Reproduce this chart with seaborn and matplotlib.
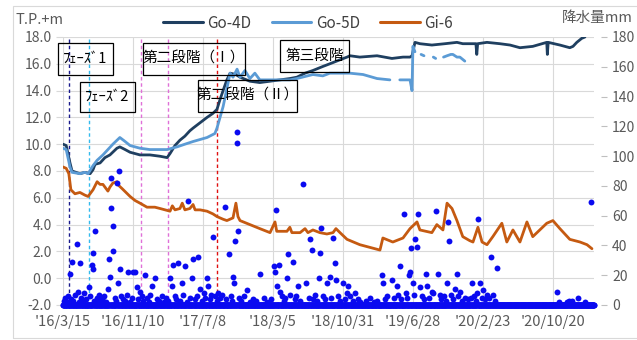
import numpy as np
import pandas as pd
import matplotlib
matplotlib.use("Agg")
import matplotlib.pyplot as plt
from matplotlib.patches import Rectangle
from matplotlib.lines import Line2D
import seaborn as sns

# Observation start; all day values below count days from this date
START = pd.Timestamp("2016-03-15")
END_DAY = 1821

# Go-4D groundwater level (T.P.+m)
go4d_day = [0, 11, 24, 31, 58, 75, 93, 103, 110, 127, 144, 161, 185, 195, 213, 230,
            247, 264, 298, 333, 357, 367, 384, 401, 418, 435, 446, 470, 494, 514, 528,
            538, 549, 562, 573, 593, 607, 641, 675, 710, 744, 778, 802, 830, 857, 891,
            915, 950, 974, 984, 1018, 1077, 1128, 1166, 1190, 1197, 1207, 1224, 1265,
            1310, 1351, 1371, 1406, 1416, 1419, 1422, 1454, 1498, 1533, 1567, 1611,
            1659, 1661, 1664, 1704, 1738, 1749, 1762, 1779, 1790]
go4d_level = [10.0, 9.9, 8.6, 8.0, 7.8, 7.9, 7.8, 8.1, 8.5, 8.6, 9.0, 9.2, 9.7, 9.8, 9.6, 9.4,
              9.3, 9.2, 9.2, 9.1, 9.0, 9.3, 9.9, 10.3, 10.6, 11.0, 11.2, 11.6, 12.0, 12.3, 12.6,
              13.3, 14.0, 14.8, 15.3, 15.2, 15.0, 14.7, 14.6, 14.7, 14.8, 14.9, 15.0, 15.3, 15.5, 15.8,
              16.0, 16.3, 16.5, 16.6, 16.5, 16.6, 16.4, 16.5, 16.5, 16.6, 17.6, 17.5, 17.4,
              17.5, 17.6, 17.5, 17.5, 17.5, 16.7, 17.5, 17.6, 17.5, 17.4, 17.2, 17.3,
              17.6, 16.7, 17.6, 17.4, 17.2, 17.3, 17.6, 17.9, 18.0]

# Go-5D groundwater level (T.P.+m); seg separates stretches with missing records
go5d_day = [0, 11, 24, 31, 58, 75, 86, 103, 117, 137, 154, 171, 195, 213, 230, 264, 298,
            333, 357, 391, 418, 446, 494, 521, 528, 549, 573, 583, 597, 607, 624, 641, 658,
            675, 710, 744, 778, 802, 857, 891, 915, 984, 1029, 1077, 1121,
            1155, 1190, 1197, 1200, 1207,
            1228, 1238,
            1270, 1278,
            1305, 1317, 1330, 1337, 1351, 1361, 1378]
go5d_level = [9.7, 9.6, 8.3, 7.9, 7.8, 7.9, 7.8, 8.4, 8.8, 9.2, 9.6, 10.0, 10.5, 10.2, 9.9, 9.7, 9.6,
              9.6, 9.6, 9.8, 10.0, 10.2, 10.5, 10.8, 11.2, 12.8, 15.3, 15.0, 15.6, 15.0, 15.5, 14.9, 15.3,
              14.8, 14.8, 14.8, 14.8, 14.9, 15.2, 15.1, 15.3, 15.3, 15.2, 14.9, 14.8,
              14.8, 14.8, 14.0, 17.3, 16.9,
              16.7, 16.6,
              16.5, 16.4,
              16.5, 16.6, 16.7, 16.7, 16.5, 16.5, 16.2]
go5d_seg = [0] * 45 + [1] * 5 + [2] * 2 + [3] * 2 + [4] * 7

# Gi-6 groundwater level (T.P.+m)
gi6_day = [0, 11, 20, 27, 41, 58, 75, 86, 103, 117, 127, 137, 154, 161, 171, 185, 192, 202,
           230, 247, 264, 288, 315, 333, 367, 375, 384, 401, 409, 418, 435, 446, 453, 470,
           494, 514, 528, 549, 562, 583, 593, 600, 607, 641, 675, 710, 727, 733, 768, 778,
           785, 813, 830, 840, 857, 881, 905, 926, 936, 950, 974, 1018, 1087, 1097, 1131,
           1166, 1190, 1214, 1224, 1265, 1282, 1303, 1317, 1334, 1351, 1371, 1395, 1406,
           1423, 1437, 1454, 1474, 1505, 1522, 1543, 1567, 1591, 1611, 1635, 1659, 1680,
           1704, 1738, 1773, 1797, 1814]
gi6_level = [8.3, 8.2, 7.8, 6.6, 6.3, 6.4, 6.2, 6.1, 6.6, 7.2, 7.0, 7.0, 6.5, 6.8, 7.1, 7.2, 6.9, 6.7,
             6.1, 5.8, 5.6, 5.3, 5.3, 5.2, 5.0, 5.4, 5.1, 5.2, 5.6, 5.1, 5.2, 5.5, 5.1, 5.1,
             5.0, 4.8, 4.6, 4.4, 4.3, 4.5, 5.6, 4.6, 4.3, 4.0, 3.7, 3.4, 4.2, 3.5, 3.5, 3.8,
             3.4, 3.4, 3.7, 3.4, 3.6, 3.4, 3.3, 3.4, 3.7, 3.4, 2.9, 2.5, 2.1, 3.0, 2.7,
             3.0, 3.7, 4.2, 3.6, 3.4, 4.0, 3.6, 5.6, 5.2, 4.3, 3.1, 2.8, 2.7,
             3.8, 2.7, 2.5, 3.1, 4.1, 2.7, 3.6, 2.7, 4.2, 3.1, 3.6, 4.1, 4.3,
             3.7, 2.9, 2.7, 2.5, 2.2]

# Daily precipitation (mm): (day, amount) for rainy days; all other days are 0
rain_events = [
    (3, 3), (8, 5), (14, 2), (18, 6), (24, 21), (28, 4), (31, 29), (36, 3), (42, 7), (48, 41),
    (51, 9), (55, 2), (58, 28), (63, 5), (68, 3), (72, 8), (80, 4), (89, 12), (94, 6), (99, 27),
    (103, 35), (104, 24), (108, 3), (110, 50), (115, 5), (120, 2), (125, 7), (131, 4), (137, 3),
    (142, 6), (148, 2), (154, 11), (158, 31), (161, 19), (163, 65), (166, 85), (171, 36),
    (173, 53), (177, 5), (181, 3), (185, 82), (189, 15), (192, 90), (195, 24), (199, 6),
    (206, 4), (212, 3), (218, 7), (223, 22), (230, 2), (235, 5), (240, 22), (247, 22),
    (254, 12), (258, 4), (264, 9), (270, 6), (276, 3), (281, 20), (288, 5), (294, 2), (300, 7),
    (305, 13), (315, 18), (322, 4), (330, 3), (340, 6), (346, 2), (352, 5), (360, 3), (367, 18),
    (374, 13), (377, 27), (383, 6), (389, 4), (394, 28), (400, 3), (408, 15), (412, 7),
    (418, 26), (424, 2), (429, 70), (436, 5), (443, 18), (446, 31), (452, 4), (458, 6),
    (463, 32), (470, 11), (476, 3), (482, 8), (487, 5), (494, 18), (497, 13), (503, 4),
    (508, 7), (514, 46), (520, 6), (527, 3), (533, 8), (540, 5), (546, 7), (555, 66), (560, 4),
    (569, 34), (575, 6), (579, 3), (583, 19), (588, 15), (590, 43), (595, 116), (598, 109),
    (600, 50), (605, 5), (612, 3), (620, 6), (631, 10), (640, 2), (650, 4), (662, 3), (675, 21),
    (690, 5), (700, 2), (712, 4), (724, 26), (727, 22), (730, 64), (734, 13), (741, 27),
    (744, 9), (750, 6), (757, 3), (763, 5), (768, 18), (771, 34), (778, 7), (789, 29), (795, 4),
    (800, 6), (806, 13), (812, 3), (823, 81), (833, 15), (843, 5), (847, 44), (854, 37),
    (858, 4), (864, 7), (870, 3), (878, 18), (881, 35), (885, 52), (892, 6), (897, 4), (905, 15),
    (915, 19), (920, 5), (926, 45), (933, 28), (936, 17), (944, 6), (950, 3), (960, 15),
    (966, 4), (974, 8), (977, 13), (985, 6), (993, 3), (1001, 8), (1010, 4), (1020, 2),
    (1040, 3), (1053, 5), (1065, 2), (1078, 3), (1094, 20), (1097, 15), (1105, 4), (1112, 6),
    (1128, 17), (1136, 5), (1145, 13), (1150, 7), (1155, 26), (1160, 4), (1169, 61), (1175, 8),
    (1180, 5), (1187, 20), (1190, 22), (1193, 38), (1200, 15), (1203, 7), (1207, 44),
    (1214, 39), (1217, 61), (1224, 12), (1230, 6), (1238, 4), (1245, 21), (1248, 13),
    (1255, 5), (1265, 9), (1270, 8), (1279, 63), (1286, 21), (1293, 7), (1298, 4), (1305, 6),
    (1312, 3), (1317, 15), (1320, 56), (1323, 43), (1330, 7), (1338, 4), (1344, 11),
    (1351, 21), (1356, 6), (1361, 9), (1368, 3), (1380, 5), (1390, 4), (1399, 5), (1402, 15),
    (1410, 6), (1415, 3), (1419, 8), (1423, 58), (1430, 15), (1437, 5), (1440, 10), (1446, 4),
    (1454, 7), (1460, 5), (1467, 32), (1474, 7), (1481, 3), (1488, 25), (1694, 9), (1700, 2),
    (1728, 2), (1735, 3), (1745, 3), (1766, 5), (1790, 2), (1810, 69),
]

# Construction phases: start day of each phase marker line
phase_day = [20, 89, 267, 360, 528]
phase_color = ["#1a1a8c", "#33bbee", "#e070d8", "#e070d8", "#e01010"]

C4D, C5D, C6 = "#1f3f60", "#5b9bd5", "#c55a11"
RAIN = "#0a0af0"
GRID = "#d9d9d9"
TXT = "#595959"


def to_date(days):
    return START + pd.to_timedelta(np.asarray(days), unit="D")


df4 = pd.DataFrame({"date": to_date(go4d_day), "level": go4d_level})
df5 = pd.DataFrame({"date": to_date(go5d_day), "level": go5d_level, "seg": go5d_seg})
df6 = pd.DataFrame({"date": to_date(gi6_day), "level": gi6_level})

rain = np.zeros(END_DAY + 1)
for d, v in rain_events:
    rain[d] = v
dfr = pd.DataFrame({"date": to_date(np.arange(END_DAY + 1)), "mm": rain})

sns.set_style("white")
plt.rcParams["font.family"] = ["Noto Sans CJK JP", "DejaVu Sans"]

W, H = 637, 340
fig = plt.figure(figsize=(W / 100, H / 100), dpi=100)
ax = fig.add_axes([63 / W, 35 / H, 531 / W, 268 / H])

sns.lineplot(data=df4, x="date", y="level", color=C4D, lw=2.0, ax=ax)
sns.lineplot(data=df5, x="date", y="level", units="seg", estimator=None,
             color=C5D, lw=2.0, ax=ax)
sns.lineplot(data=df6, x="date", y="level", color=C6, lw=2.0, ax=ax)

for d, c in zip(phase_day, phase_color):
    ax.axvline(to_date([d])[0], color=c, lw=1.0, ls=(0, (2.5, 2)), zorder=1.5)

ax.set_ylim(-2, 18)
ax.set_yticks(np.arange(-2, 18.1, 2))
ax.set_yticklabels([f"{v:.1f}" for v in np.arange(-2, 18.1, 2)])
ax.set_xlim(to_date([0])[0], to_date([END_DAY])[0])
tick_days = np.arange(0, END_DAY, 240)
tick_dates = to_date(tick_days)
ax.set_xticks(tick_dates)
ax.set_xticklabels([f"'{d.year % 100}/{d.month}/{d.day}" for d in tick_dates])
ax.set_xlabel("")
ax.set_ylabel("")
ax.grid(True, color=GRID, lw=0.8)
ax.set_axisbelow(True)
for s in ax.spines.values():
    s.set_visible(False)
ax.tick_params(axis="y", length=5, color=GRID, labelcolor=TXT, labelsize=10, pad=3)
ax.tick_params(axis="x", length=0, labelcolor=TXT, labelsize=10.5, pad=7)

ax2 = ax.twinx()
sns.scatterplot(data=dfr, x="date", y="mm", color=RAIN, s=18, linewidth=0,
                clip_on=False, ax=ax2, zorder=5)
ax2.set_ylim(0, 180)
ax2.set_yticks(np.arange(0, 181, 20))
ax2.set_ylabel("")
ax2.set_xlabel("")
ax2.grid(False)
for s in ax2.spines.values():
    s.set_visible(False)
ax2.spines["right"].set_position(("outward", 5))
ax2.tick_params(axis="y", length=4, color="#bfbfbf", labelcolor=TXT, labelsize=10, pad=4)

handles = [Line2D([], [], color=C4D, lw=2.2), Line2D([], [], color=C5D, lw=2.2),
           Line2D([], [], color=C6, lw=2.2)]
fig.legend(handles, ["Go-4D", "Go-5D", "Gi-6"], loc="center", bbox_to_anchor=(308 / W, 1 - 23 / H),
           ncol=3, frameon=False, fontsize=11, handlelength=2.6, handletextpad=0.3,
           columnspacing=1.3, labelcolor="#404040")

fig.text(15 / W, 1 - 20 / H, "T.P.+m", fontsize=10.5, color=TXT, ha="left", va="center")
fig.text(562 / W, 1 - 18 / H, "降水量mm", fontsize=10.5, color=TXT, ha="left", va="center")

# Phase caption boxes (pixel layout)
boxes = [
    (58, 43, 113, 75, "ﾌｪｰｽﾞ1"),
    (80, 82, 135, 112, "ﾌｪｰｽﾞ2"),
    (143, 43, 245, 75, "第二段階（Ⅰ）"),
    (198, 80, 297, 112, "第二段階（Ⅱ）"),
    (280, 40, 349, 72, "第三段階"),
]
for x0, y0, x1, y1, label in boxes:
    fig.add_artist(Rectangle((x0 / W, 1 - y1 / H), (x1 - x0) / W, (y1 - y0) / H,
                             transform=fig.transFigure, fill=False, ec="black", lw=0.9,
                             zorder=10))
    fig.text((x0 + x1) / 2 / W, 1 - (y0 + y1) / 2 / H, label, fontsize=10.5,
             color="black", ha="center", va="center", zorder=10)

# Chart area frame
fig.add_artist(Rectangle((13 / W, 1 - 338 / H), 640 / W, 332 / H, transform=fig.transFigure,
                         fill=False, ec=GRID, lw=0.8))

fig.savefig("out.png", dpi=100)
